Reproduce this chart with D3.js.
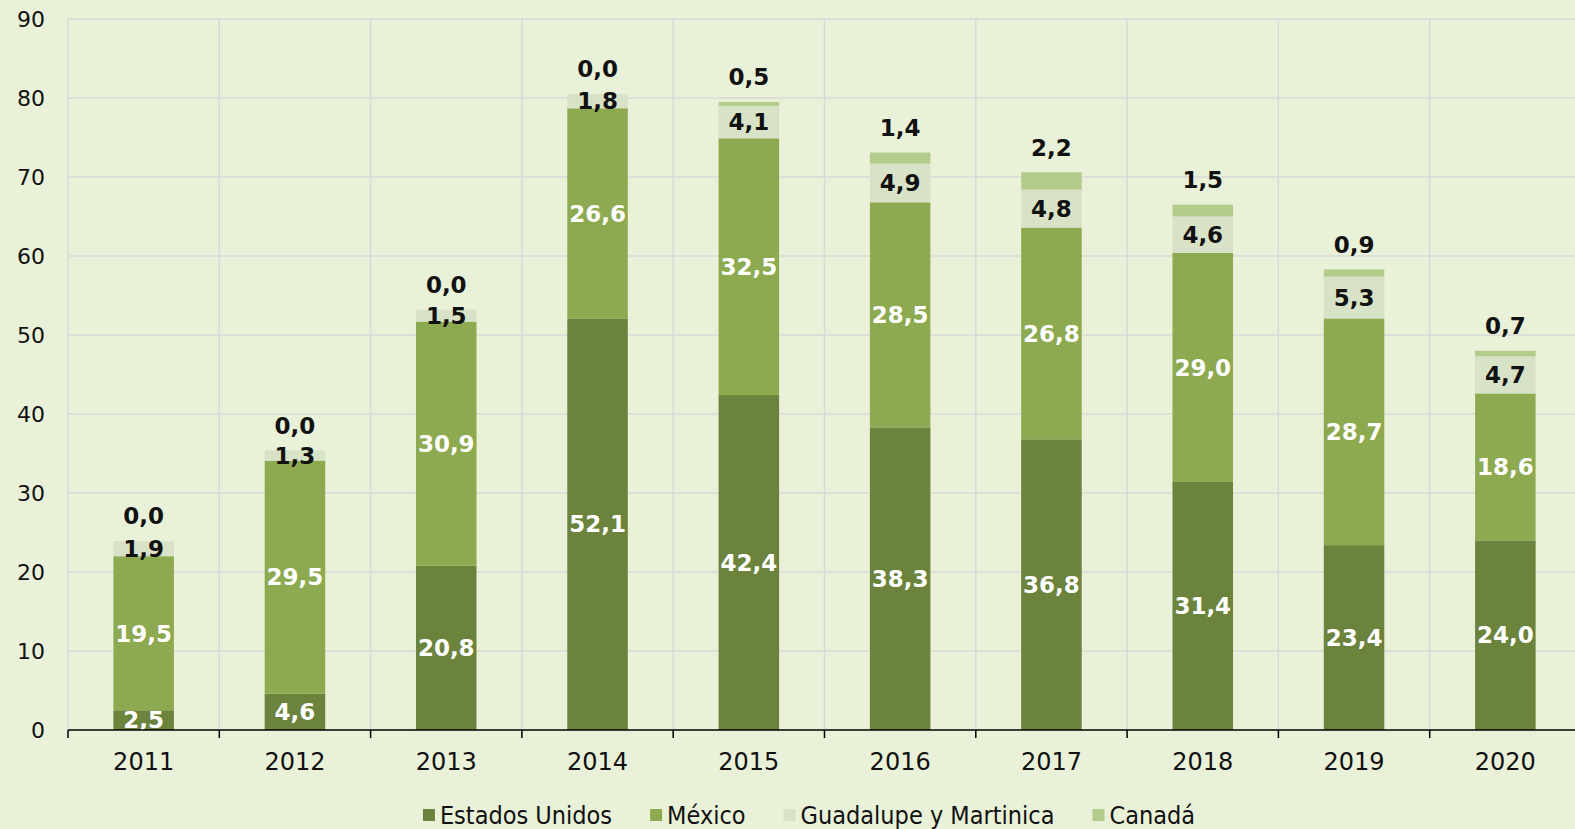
<!DOCTYPE html>
<html>
<head>
<meta charset="utf-8">
<script src="https://cdn.jsdelivr.net/npm/d3@7"></script>
<style>
  body { margin: 0; background: #e9f1d9; }
  svg { display: block; }
</style>
</head>
<body>
<script>
// chart data
const years = ['2011', '2012', '2013', '2014', '2015', '2016', '2017', '2018', '2019', '2020'];
const estadosUnidos = [2.5, 4.6, 20.8, 52.1, 42.4, 38.3, 36.8, 31.4, 23.4, 24.0];
const mexico = [19.5, 29.5, 30.9, 26.6, 32.5, 28.5, 26.8, 29.0, 28.7, 18.6];
const guadalupe = [1.9, 1.3, 1.5, 1.8, 4.1, 4.9, 4.8, 4.6, 5.3, 4.7];
const canada = [0.0, 0.0, 0.0, 0.0, 0.5, 1.4, 2.2, 1.5, 0.9, 0.7];
const seriesNames = ['Estados Unidos', 'México', 'Guadalupe y Martinica', 'Canadá'];
const yTicks = [0, 10, 20, 30, 40, 50, 60, 70, 80, 90];

const width = 1575;
const height = 829;
const colors = ['#6b833c', '#8eaa50', '#d8e2c7', '#b3cc8c'];
const labelColors = ['#ffffff', '#ffffff', '#111111', '#111111'];

const rows = years.map((y, i) => ({
  year: y,
  s0: estadosUnidos[i], s1: mexico[i], s2: guadalupe[i], s3: canada[i]
}));
const keys = ['s0', 's1', 's2', 's3'];
const stacked = d3.stack().keys(keys)(rows);

const svg = d3.select('body')
  .append('svg')
  .attr('width', width)
  .attr('height', height)
  .style('font-family', "'DejaVu Sans', sans-serif");

svg.append('rect').attr('width', width).attr('height', height).attr('fill', '#e9f1d9');

const x = d3.scaleBand()
  .domain(years)
  .range([68, 1581])
  .paddingInner(0.6)
  .paddingOuter(0.3);

const y = d3.scaleLinear()
  .domain([0, 90])
  .range([730, 19]);

const half = (x.step() - x.bandwidth()) / 2;
const bounds = years.map(d => x(d) - half).concat([x(years[years.length - 1]) + x.bandwidth() + half]);

// gridlines
svg.append('g')
  .selectAll('line')
  .data(yTicks.slice(1))
  .join('line')
  .attr('x1', 68).attr('x2', width)
  .attr('y1', d => y(d)).attr('y2', d => y(d))
  .attr('stroke', '#d9d9d9').attr('stroke-width', 1.5);

svg.append('g')
  .selectAll('line')
  .data(bounds)
  .join('line')
  .attr('x1', d => d).attr('x2', d => d)
  .attr('y1', y(90)).attr('y2', y(0))
  .attr('stroke', '#d9d9d9').attr('stroke-width', 1.5);

// bars
const layers = svg.append('g')
  .selectAll('g')
  .data(stacked)
  .join('g')
  .attr('fill', (d, i) => colors[i]);

layers.selectAll('rect')
  .data(d => d)
  .join('rect')
  .attr('x', d => x(d.data.year))
  .attr('width', x.bandwidth())
  .attr('y', d => y(d[1]))
  .attr('height', d => y(d[0]) - y(d[1]));

// value labels
const fmt = v => v.toFixed(1).replace('.', ',');
stacked.forEach((layer, i) => {
  svg.append('g')
    .selectAll('text')
    .data(layer)
    .join('text')
    .attr('x', d => x(d.data.year) + x.bandwidth() / 2)
    .attr('y', d => i === 3 ? y(d[1]) - 25 : y((d[0] + d[1]) / 2))
    .attr('dy', '0.36em')
    .attr('text-anchor', 'middle')
    .attr('fill', labelColors[i])
    .style('font-size', '23px')
    .style('font-weight', 'bold')
    .text(d => fmt(d[1] - d[0]));
});

// x axis
svg.append('line')
  .attr('x1', 68).attr('x2', width)
  .attr('y1', y(0)).attr('y2', y(0))
  .attr('stroke', '#000').attr('stroke-width', 1.5);

svg.append('g')
  .selectAll('line')
  .data(bounds)
  .join('line')
  .attr('x1', d => d).attr('x2', d => d)
  .attr('y1', y(0)).attr('y2', y(0) + 8)
  .attr('stroke', '#000').attr('stroke-width', 1.5);

svg.append('g')
  .selectAll('text')
  .data(years)
  .join('text')
  .attr('x', d => x(d) + x.bandwidth() / 2)
  .attr('y', 761)
  .attr('dy', '0.36em')
  .attr('text-anchor', 'middle')
  .attr('fill', '#111')
  .style('font-size', '24px')
  .text(d => d);

// y axis labels
svg.append('g')
  .selectAll('text')
  .data(yTicks)
  .join('text')
  .attr('x', 45)
  .attr('y', d => y(d))
  .attr('dy', '0.36em')
  .attr('text-anchor', 'end')
  .attr('fill', '#111')
  .style('font-size', '22px')
  .text(d => d);

// legend
const legend = svg.append('g').attr('transform', 'translate(0, 815)');
const items = legend.selectAll('g')
  .data(seriesNames)
  .join('g');

items.append('rect')
  .attr('width', 12).attr('height', 12)
  .attr('y', -6)
  .attr('fill', (d, i) => colors[i]);

items.append('text')
  .attr('x', 17)
  .attr('dy', '0.36em')
  .attr('fill', '#111')
  .style('font-family', "'DejaVu Sans Condensed', 'DejaVu Sans', sans-serif")
  .style('font-stretch', 'condensed')
  .style('font-size', '25px')
  .text(d => d);

let offset = 0;
const widths = [];
items.each(function () {
  widths.push(17 + d3.select(this).select('text').node().getComputedTextLength());
});
const gap = 38;
const total = d3.sum(widths) + gap * (widths.length - 1);
offset = 809 - total / 2;
items.attr('transform', (d, i) => {
  const t = `translate(${offset}, 0)`;
  offset += widths[i] + gap;
  return t;
});
</script>
</body>
</html>
